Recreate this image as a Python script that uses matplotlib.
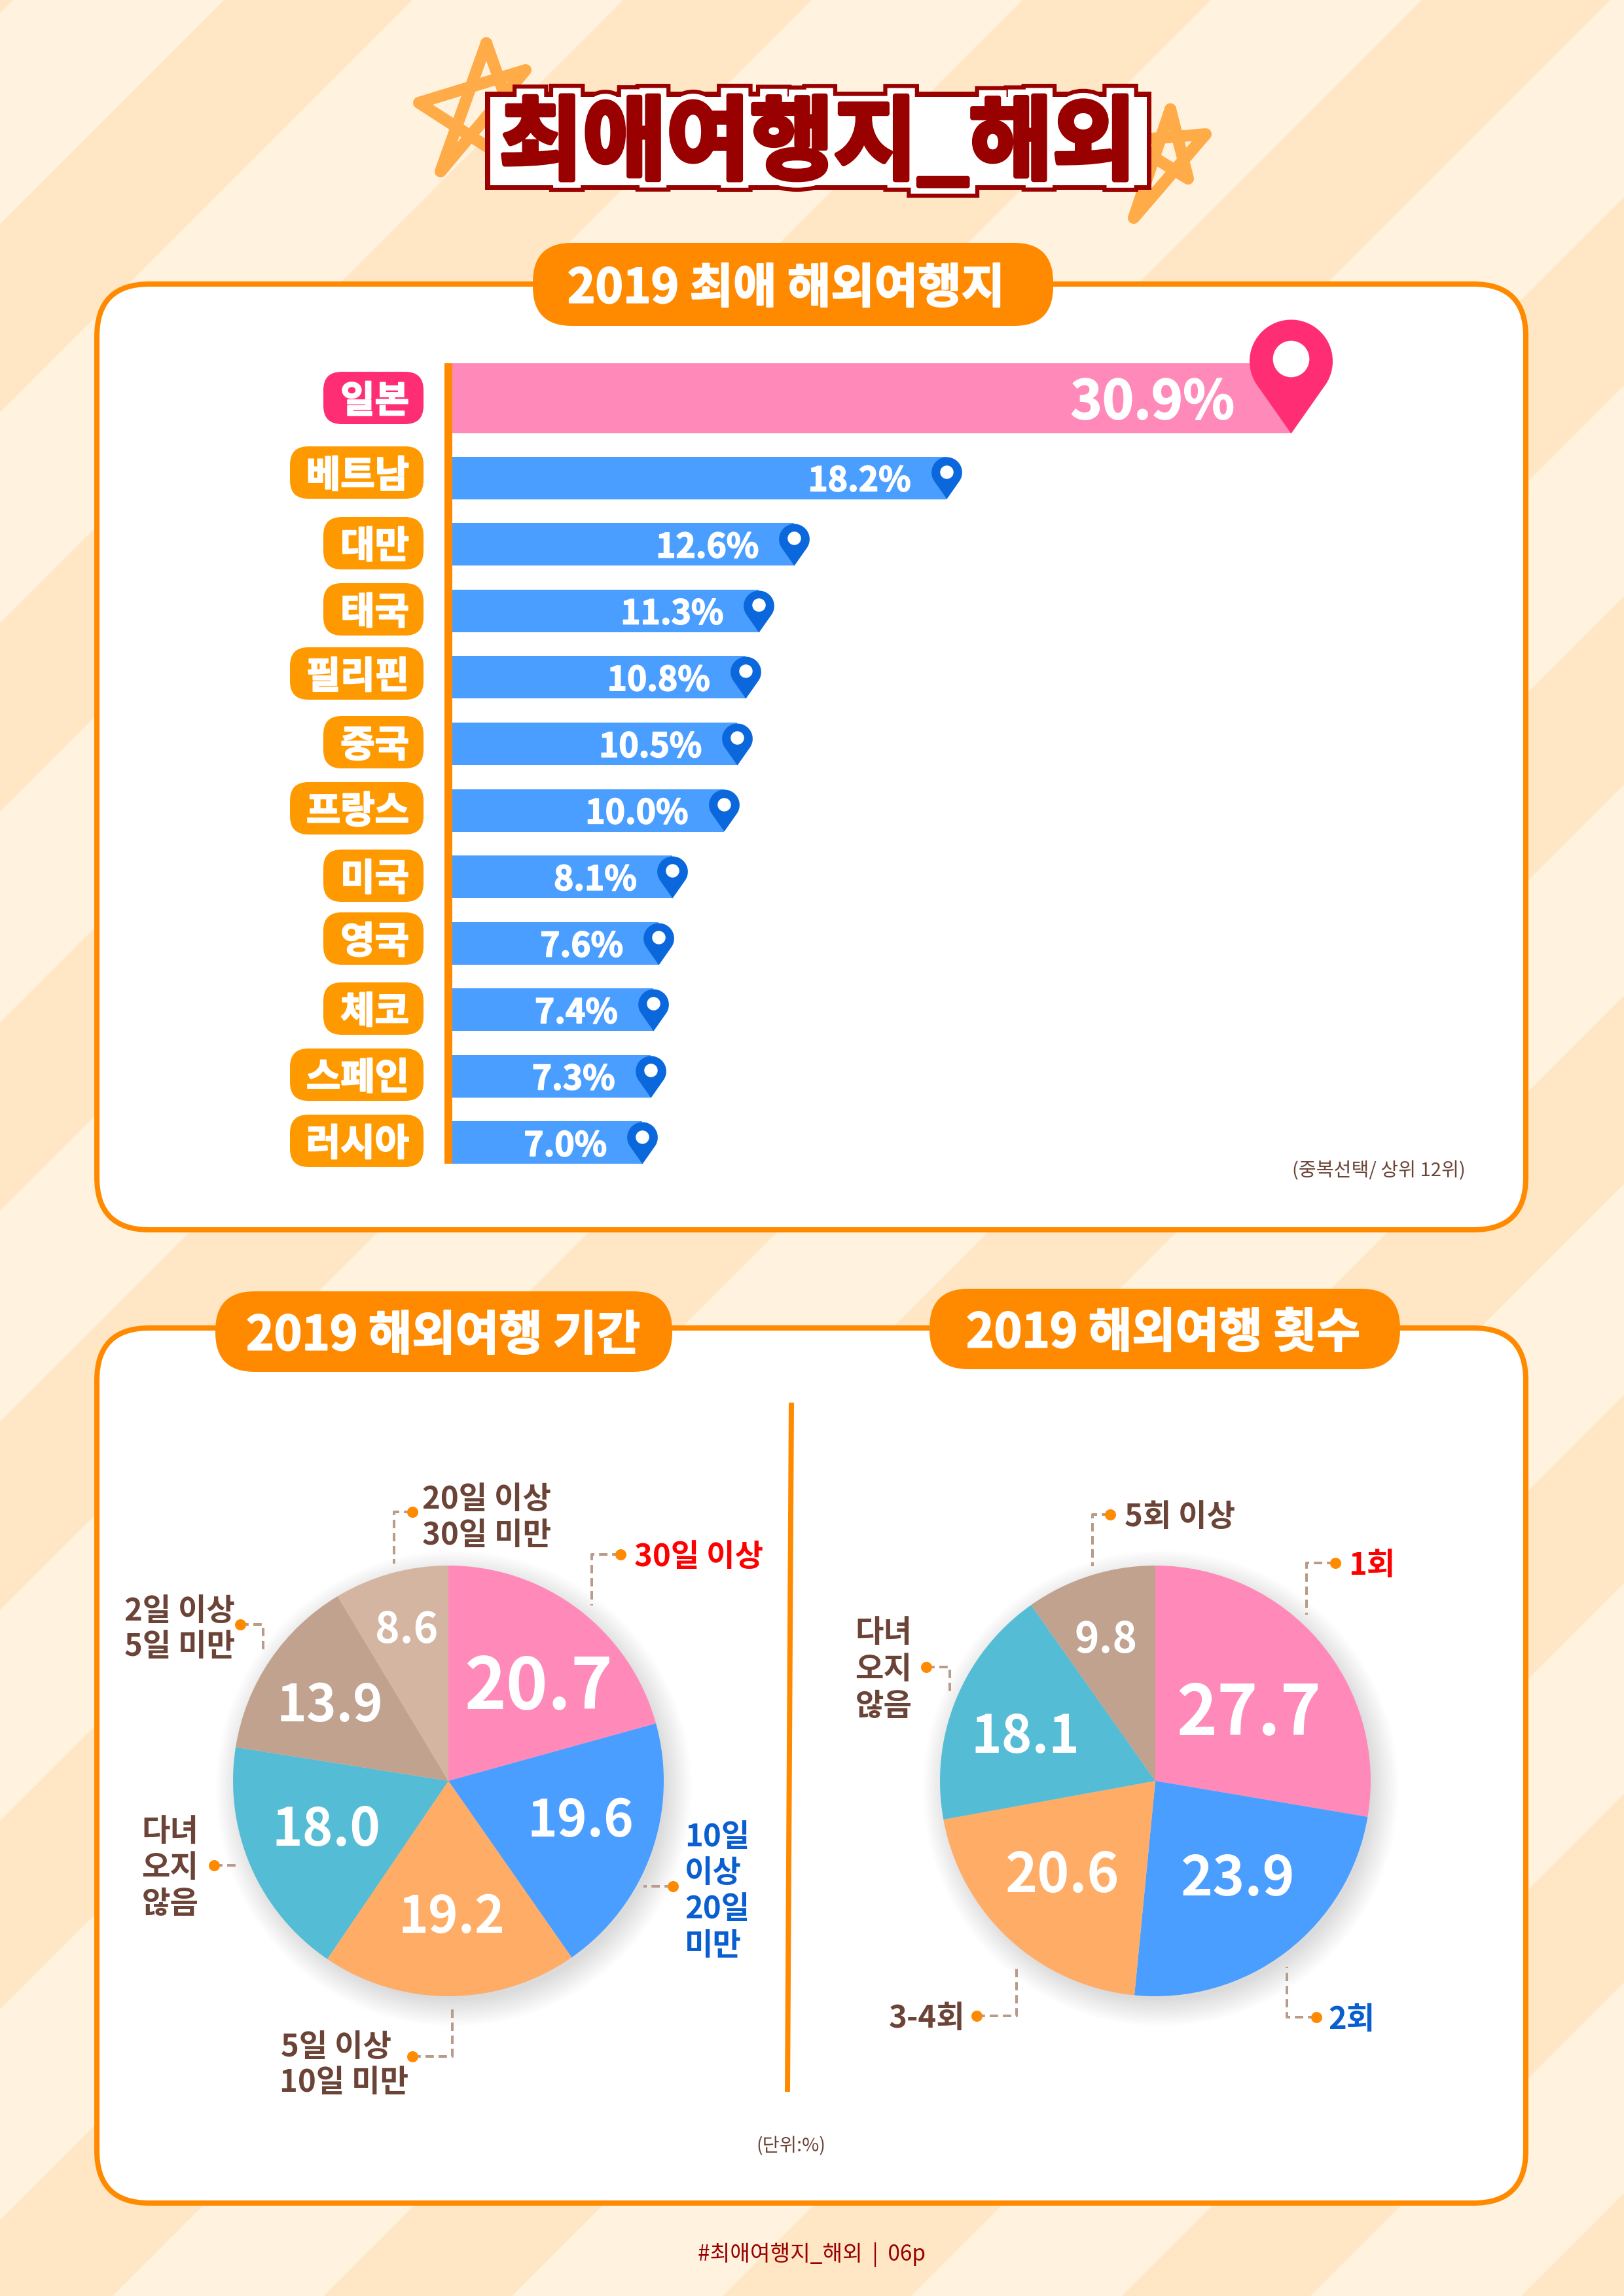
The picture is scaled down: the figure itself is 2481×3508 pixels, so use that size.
import matplotlib
matplotlib.use('Agg')
import matplotlib.pyplot as plt
import matplotlib.patheffects as pe
from matplotlib.patches import FancyBboxPatch, Circle
from matplotlib.path import Path
from matplotlib.transforms import offset_copy
import numpy as np

plt.rcParams['font.family'] = ['Noto Sans CJK KR', 'DejaVu Sans']

W, H = 2481, 3508
PX = 0.72  # points per pixel at dpi 100

# data
countries = ['일본', '베트남', '대만', '태국', '필리핀', '중국', '프랑스', '미국', '영국', '체코', '스페인', '러시아']
shares = [30.9, 18.2, 12.6, 11.3, 10.8, 10.5, 10.0, 8.1, 7.6, 7.4, 7.3, 7.0]

trip_length = [20.7, 19.6, 19.2, 18.0, 13.9, 8.6]
trip_length_colors = ['#FF8ABA', '#4A9EFF', '#FFAC66', '#55BCD6', '#C0A28E', '#D4B5A2']

trip_count = [27.7, 23.9, 20.6, 18.1, 9.8]
trip_count_colors = ['#FF8ABA', '#4A9EFF', '#FFAC66', '#55BCD6', '#C0A28E']

ORANGE = '#FF8A00'
BROWN = '#6B4437'
DARKRED = '#990000'
RED = '#FF0000'
BLUE = '#0A5FD0'
TAN = '#B89B88'

fig = plt.figure(figsize=(W / 100, H / 100), dpi=100)


def px_axes(z):
    ax = fig.add_axes([0, 0, 1, 1], zorder=z)
    ax.set_xlim(0, W)
    ax.set_ylim(H, 0)
    ax.axis('off')
    return ax


def rect_axes(x0, y0, x1, y1, z):
    return fig.add_axes([x0 / W, 1 - y1 / H, (x1 - x0) / W, (y1 - y0) / H], zorder=z)


def put(ax, x, y, s, size, color=BROWN, ha='center', weight='bold', **kw):
    # va center sits a little high for this font, push it down with the size
    return ax.text(x, y + size * 0.13, s, fontsize=size, color=color, ha=ha, va='center', weight=weight, **kw)


def box(ax, x0, y0, x1, y1, r, fc, ec='none', lw=0, z=2):
    ax.add_patch(FancyBboxPatch((x0, y0), x1 - x0, y1 - y0, boxstyle=f'round,pad=0,rounding_size={r}',
                                fc=fc, ec=ec, lw=lw, zorder=z))


bg = px_axes(0)
top = px_axes(5)
bg.set_facecolor('#FFF3DF')
bg.axis('on')
bg.set_xticks([])
bg.set_yticks([])
for s in bg.spines.values():
    s.set_visible(False)

# diagonal stripes
for k in range(-1, 11):
    c0, c1 = 342 + 610 * k, 630 + 610 * k
    bg.fill([c0, c1, 0, 0], [0, 0, c1, c0], color='#FFE7C5', lw=0, zorder=1)

# stars behind the title
for xs, ys in [([743, 815, 640, 803, 673, 743], [66, 270, 157, 107, 262, 66]),
               ([1788, 1815, 1722, 1842, 1732, 1788], [167, 273, 215, 205, 333, 167])]:
    bg.plot(xs, ys, color='#FFAB47', lw=13, solid_joinstyle='round', solid_capstyle='round', zorder=2)

# title: red outline under a white plate, then the lettering with its white halo
TITLE = '최애여행지_해외'
bg.add_patch(plt.Rectangle((741, 140), 1018, 150, fc=DARKRED, lw=0, zorder=3))
bg.text(1249, 222, TITLE, fontsize=100, color=DARKRED, ha='center', va='center', weight='bold', zorder=3.1,
        path_effects=[pe.Stroke(linewidth=26, foreground=DARKRED, joinstyle='miter')])
bg.add_patch(plt.Rectangle((749, 148), 1003, 135, fc='white', lw=0, zorder=3.2))
bg.text(1249, 222, TITLE, fontsize=100, color=DARKRED, ha='center', va='center', weight='bold', zorder=4,
        path_effects=[pe.Stroke(linewidth=17, foreground='white', joinstyle='miter'),
                      pe.Stroke(linewidth=5, foreground=DARKRED), pe.Normal()])

# cards
box(bg, 148, 434, 2331, 1879, 80, 'white', ORANGE, 8 * PX, z=5)
box(bg, 148, 2029, 2331, 3366, 80, 'white', ORANGE, 8 * PX, z=5)

# section pills
for x0, y0, x1, y1, tx, s in [(814, 371, 1609, 498, 1201, '2019 최애 해외여행지'),
                              (329, 1973, 1027, 2096, 677, '2019 해외여행 기간'),
                              (1420, 1969, 2139, 2092, 1777, '2019 해외여행 횟수')]:
    box(bg, x0, y0, x1, y1, 60, ORANGE, z=6)
    put(bg, tx, (y0 + y1) / 2, s, 52, 'white', zorder=7,
        path_effects=[pe.withStroke(linewidth=1.5, foreground='white')])

# bars
BAR_X0 = 691
PX_PER_PCT = 41.46
BAR_Y0, BAR_Y1 = 555, 1778
bar_ax = rect_axes(BAR_X0, BAR_Y0, 2200, BAR_Y1, 2)
bar_ax.patch.set_alpha(0)
bar_ax.set_xlim(0, (2200 - BAR_X0) / PX_PER_PCT)
bar_ax.set_ylim(BAR_Y1, BAR_Y0)
bar_ax.set_xticks([])
bar_ax.set_yticks([])
for name, sp in bar_ax.spines.items():
    sp.set_visible(name == 'left')
bar_ax.spines['left'].set_color(ORANGE)
bar_ax.spines['left'].set_linewidth(12 * PX)
bar_ax.spines['left'].set_capstyle('butt')
bar_ax.spines['left'].set_position(('outward', 6 * PX))

bar_y = [608.5] + [730 + 101.6 * i for i in range(len(shares) - 1)]
bar_h = [107] + [65] * (len(shares) - 1)
bar_ax.barh(bar_y, shares, height=bar_h, color=['#FF8ABA'] + ['#4A9EFF'] * (len(shares) - 1), lw=0)

# map pin shape, tip at the origin and height 1
pin_r = 0.365
alpha = np.arcsin(pin_r / (1 - pin_r))
t = np.linspace(-alpha, np.pi + alpha, 60)
pin_verts = np.column_stack([pin_r * np.cos(t), 1 - pin_r + pin_r * np.sin(t)])
pin_verts = np.vstack([[0, 0], pin_verts, [0, 0]])
pin_path = Path(pin_verts, closed=True)

for v, y, h, i in zip(shares, bar_y, bar_h, range(len(shares))):
    tip_y = y + h / 2
    pin_h = 174 if i == 0 else 64
    bar_ax.plot([v], [tip_y], marker=pin_path, ms=2 * pin_h * PX, mew=0, ls='none',
                color='#FF2E74' if i == 0 else '#0A68DC', clip_on=False, zorder=4)
    hole = offset_copy(bar_ax.transData, fig=fig, y=0.655 * pin_h, units='dots')
    bar_ax.plot([v], [tip_y], marker='o', ms=2 * 0.16 * pin_h * PX, mew=0, ls='none', color='white',
                transform=hole, clip_on=False, zorder=5)
    size = 59 if i == 0 else 37
    bar_ax.annotate(f'{v:.1f}%', xy=(v, y), xytext=(-86 if i == 0 else -54, -size * 0.13),
                    textcoords='offset pixels', ha='right', va='center', color='white', weight='bold',
                    fontsize=size, annotation_clip=False, zorder=6,
                    path_effects=[pe.withStroke(linewidth=1.2, foreground='white')])

# country pills
pill_y = [608, 722, 830, 931, 1029, 1134, 1235, 1338, 1434, 1541, 1642, 1743]
for name, y, i in zip(countries, pill_y, range(len(countries))):
    x0 = 443 if len(name) == 3 else 494
    box(top, x0, y - 40, 647, y + 40, 28, '#FF2E74' if i == 0 else '#FF9900')
    put(top, 625, y, name, 41, 'white', ha='right', zorder=3,
        path_effects=[pe.withStroke(linewidth=1.5, foreground='white')])

put(top, 2239, 1787, '(중복선택/ 상위 12위)', 21, BROWN, ha='right', weight='regular')


# pies
def draw_pie(cx, cy, values, colors):
    r = 329
    pad = 1.3
    ax = rect_axes(cx - r * pad, cy - r * pad, cx + r * pad, cy + r * pad, 2)
    ax.patch.set_alpha(0)
    # soft shadow from stacked translucent discs
    for k in range(36):
        ax.add_patch(Circle((0.025, -0.035), 0.98 + 0.13 * k / 36, fc='black', alpha=0.005, lw=0, zorder=0))
    ax.pie(values, colors=colors, startangle=90, counterclock=False, radius=1,
           wedgeprops={'linewidth': 0, 'zorder': 2})
    ax.set_xlim(-pad, pad)
    ax.set_ylim(-pad, pad)
    ax.set_aspect('equal')


draw_pie(685, 2721, trip_length, trip_length_colors)
draw_pie(1765, 2721, trip_count, trip_count_colors)

length_pos = [(823, 2570, 78), (887, 2776, 56), (690, 2923, 56), (499, 2789, 57), (504, 2600, 56), (621, 2485, 46)]
for v, (x, y, s) in zip(trip_length, length_pos):
    put(top, x, y, f'{v:.1f}', s, 'white')
count_pos = [(1908, 2610, 76), (1890, 2864, 60), (1622, 2859, 60), (1567, 2647, 57), (1690, 2500, 46)]
for v, (x, y, s) in zip(trip_count, count_pos):
    put(top, x, y, f'{v:.1f}', s, 'white')


def leader(xs, ys):
    top.plot(xs, ys, color=TAN, lw=4 * PX, ls=(0, (3.2, 1.8)), zorder=1)
    top.plot([xs[0]], [ys[0]], 'o', color=ORANGE, ms=17 * PX, mew=0, zorder=2)


leader([948, 904, 904], [2375, 2375, 2453])
leader([630, 602, 602], [2310, 2310, 2389])
leader([367, 402, 402], [2482, 2482, 2521])
leader([327, 364], [2850, 2850])
leader([630, 691, 691], [3142, 3142, 3064])
leader([1028, 983], [2882, 2882])

LSIZE = 34
put(top, 969, 2375, '30일 이상', LSIZE, RED, ha='left')
put(top, 645, 2287, '20일 이상', LSIZE, ha='left')
put(top, 645, 2342, '30일 미만', LSIZE, ha='left')
put(top, 190, 2458, '2일 이상', LSIZE, ha='left')
put(top, 190, 2512, '5일 미만', LSIZE, ha='left')
for y, s in zip([2795, 2850, 2905], ['다녀', '오지', '않음']):
    put(top, 260, y, s, LSIZE)
put(top, 429, 3124, '5일 이상', LSIZE, ha='left')
put(top, 427, 3178, '10일 미만', LSIZE, ha='left')
for y, s in zip([2803, 2858, 2913, 2969], ['10일', '이상', '20일', '미만']):
    put(top, 1046, y, s, LSIZE, BLUE, ha='left')

leader([1696, 1669, 1669], [2314, 2314, 2393])
leader([2040, 1996, 1996], [2388, 2388, 2467])
leader([1415, 1451, 1451], [2547, 2547, 2587])
leader([1492, 1553, 1553], [3080, 3080, 3003])
leader([2011, 1966, 1966], [3082, 3082, 3005])

put(top, 1718, 2314, '5회 이상', LSIZE, ha='left')
put(top, 2060, 2388, '1회', LSIZE, RED, ha='left')
for y, s in zip([2491, 2547, 2603], ['다녀', '오지', '않음']):
    put(top, 1350, y, s, LSIZE)
put(top, 1474, 3080, '3-4회', LSIZE, ha='right')
put(top, 2029, 3082, '2회', LSIZE, BLUE, ha='left')

# divider
top.plot([1209, 1203], [2143, 3196], color=ORANGE, lw=8 * PX, solid_capstyle='butt')

put(top, 1208, 3277, '(단위:%)', 20.5, BROWN, weight='regular')
put(top, 1240, 3442, '#최애여행지_해외  |  06p', 24, DARKRED, weight='regular')

fig.savefig('out.png', dpi=100)
